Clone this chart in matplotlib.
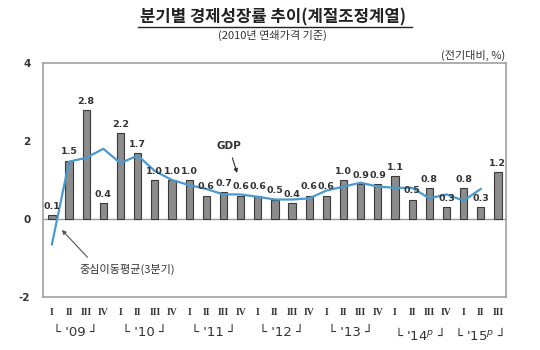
import matplotlib
matplotlib.use("Agg")
import matplotlib.pyplot as plt
import matplotlib.transforms as mtransforms

plt.rcParams['font.family'] = ['Noto Sans CJK KR', 'DejaVu Sans']

quarters = ["I", "II", "III", "IV"] * 6 + ["I", "II", "III"]
years = ["'09", "'10", "'11", "'12", "'13", "'14$^{p}$", "'15$^{p}$"]
gdp = [0.1, 1.5, 2.8, 0.4, 2.2, 1.7, 1.0, 1.0, 1.0, 0.6, 0.7, 0.6, 0.6, 0.5,
       0.4, 0.6, 0.6, 1.0, 0.9, 0.9, 1.1, 0.5, 0.8, 0.3, 0.8, 0.3, 1.2]
ma3 = [-0.65, 1.47, 1.57, 1.8, 1.43, 1.63, 1.23, 1.0, 0.87, 0.77, 0.63, 0.63,
       0.57, 0.5, 0.5, 0.53, 0.73, 0.83, 0.93, 0.83, 0.8, 0.8, 0.53, 0.63,
       0.47, 0.77]
yticks = [-2, 0, 2, 4]

fig = plt.figure(figsize=(5.4, 3.5), dpi=100)
ax = fig.add_axes([0.0796, 0.1514, 0.8574, 0.6686])

x = list(range(len(gdp)))
ax.bar(x, gdp, width=0.42, color="#8c8c8c", edgecolor="#3a3a3a", linewidth=0.8, zorder=2)
ax.plot(list(range(len(ma3))), ma3, color="#4a9acf", linewidth=1.6, zorder=3)
ax.axhline(0, color="#9a9a9a", linewidth=1.0, zorder=1)

for xi, v in zip(x, gdp):
    ax.annotate(f"{v:.1f}", (xi, v), xytext=(0, 3), textcoords="offset points",
                ha="center", va="bottom", fontsize=6.8, fontweight="bold",
                color="#333333", family="DejaVu Sans", zorder=4)

ax.set_xlim(-0.52, len(gdp) - 0.53)
ax.set_ylim(-2, 4)
ax.set_yticks(yticks)
ax.set_yticklabels([str(t) for t in yticks], fontsize=7.5, fontweight="bold",
                   family="DejaVu Sans", color="#333333")
ax.tick_params(axis="y", length=0, pad=9)
ax.set_xticks([])
for s in ax.spines.values():
    s.set_color("#a0a0a0")
    s.set_linewidth(1.2)

trans = mtransforms.blended_transform_factory(ax.transData, ax.transAxes)
for xi, q in zip(x, quarters):
    ax.text(xi, -0.045, q, transform=trans, ha="center", va="top", fontsize=7,
            fontweight="bold", family="Liberation Serif", color="#333333")
for k, yl in enumerate(years):
    n = 4 if k < 6 else 3
    cx = 4 * k + (n - 1) / 2 - 0.1
    ax.text(cx, -0.125, "└ " + yl + " ┘", transform=trans, ha="center", va="top",
            fontsize=9.5, family="DejaVu Sans", color="#333333")

ax.annotate("GDP", xy=(10.8, 1.18), xytext=(10.3, 1.87), fontsize=7.5,
            fontweight="bold", family="DejaVu Sans", color="#333333",
            ha="center", va="center",
            arrowprops=dict(arrowstyle="-|>", color="#333333", lw=0.8,
                            mutation_scale=6, shrinkA=3, shrinkB=0))
ax.annotate("중심이동평균(3분기)", xy=(0.58, -0.28), xytext=(4.4, -1.3),
            fontsize=8, color="#333333", ha="center", va="center",
            arrowprops=dict(arrowstyle="-|>", color="#555555", lw=0.8,
                            mutation_scale=6, shrinkA=4, shrinkB=0,
                            relpos=(0.15, 1.0)))

fig.text(0.505, 0.951, "분기별 경제성장률 추이(계절조정계열)", ha="center", va="center",
         fontsize=12, fontweight="bold", color="#222222")
fig.add_artist(plt.Line2D([0.256, 0.763], [0.922, 0.922], color="#222222", lw=1.0))
fig.text(0.505, 0.900, "(2010년 연쇄가격 기준)", ha="center", va="center",
         fontsize=8, color="#333333")
fig.text(0.935, 0.842, "(전기대비, %)", ha="right", va="center",
         fontsize=8, color="#333333")

fig.savefig("out.png", dpi=100)
